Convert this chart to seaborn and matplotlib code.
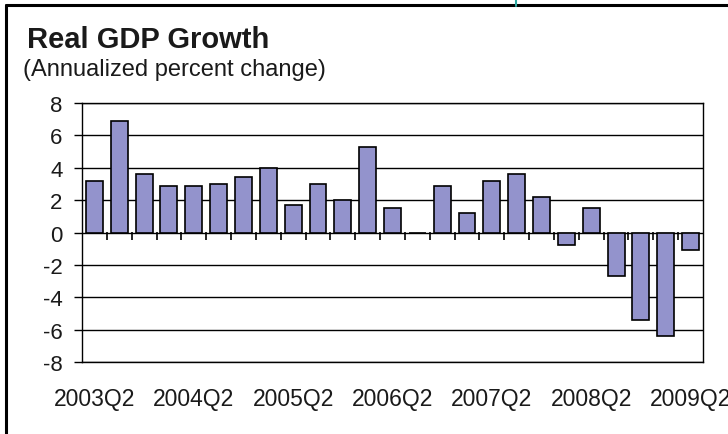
import matplotlib
matplotlib.use("Agg")
import matplotlib.pyplot as plt
from matplotlib.lines import Line2D
import seaborn as sns
import pandas as pd

quarters = ["2003Q2", "2003Q3", "2003Q4", "2004Q1", "2004Q2", "2004Q3", "2004Q4",
            "2005Q1", "2005Q2", "2005Q3", "2005Q4", "2006Q1", "2006Q2", "2006Q3",
            "2006Q4", "2007Q1", "2007Q2", "2007Q3", "2007Q4", "2008Q1", "2008Q2",
            "2008Q3", "2008Q4", "2009Q1", "2009Q2"]
growth = [3.2, 6.9, 3.6, 2.9, 2.9, 3.0, 3.4, 4.0, 1.7, 3.0, 2.0, 5.3, 1.5, 0.0,
          2.9, 1.2, 3.2, 3.6, 2.2, -0.8, 1.5, -2.7, -5.4, -6.4, -1.1]
shown_labels = ["2003Q2", "2004Q2", "2005Q2", "2006Q2", "2007Q2", "2008Q2", "2009Q2"]
y_ticks = [-8, -6, -4, -2, 0, 2, 4, 6, 8]

title = "Real GDP Growth"
subtitle = "(Annualized percent change)"

sns.set_style("white")
plt.rcParams["font.family"] = ["Liberation Sans", "DejaVu Sans"]

df = pd.DataFrame({"quarter": quarters, "growth": growth})

fig = plt.figure(figsize=(7.28, 4.35), dpi=100)
ax = fig.add_axes([82 / 728, 1 - 363 / 435, (703 - 82) / 728, (363 - 104) / 435])

for yv in y_ticks:
    ax.axhline(yv, color="black", linewidth=1.0, zorder=1)

sns.barplot(data=df, x="quarter", y="growth", color="#9393CC", saturation=1,
            width=0.68, edgecolor="black", linewidth=1.2, ax=ax, zorder=3)

ax.set_xlim(-0.5, len(quarters) - 0.5)
ax.set_ylim(-8, 8)
ax.set_yticks(y_ticks)
ax.set_yticklabels([str(v) for v in y_ticks])
ax.set_xticks([quarters.index(q) for q in shown_labels])
ax.set_xticklabels(shown_labels)
ax.set_xlabel("")
ax.set_ylabel("")
ax.tick_params(axis="x", length=0, pad=18, labelsize=16.5, colors="#1a1a1a")
ax.tick_params(axis="y", direction="out", length=6, width=1.0, color="black",
               pad=8, labelsize=16, labelcolor="#1a1a1a", left=True)
for sp in ax.spines.values():
    sp.set_visible(True)
    sp.set_color("black")
    sp.set_linewidth(1.0)

# category-boundary tick marks hanging below the zero line
sec = ax.secondary_xaxis(0.5)
sec.set_xticks([i + 0.5 for i in range(len(quarters) - 1)])
sec.set_xticklabels([])
sec.tick_params(axis="x", direction="in", length=6, width=1.2, color="black")
sec.spines["bottom"].set_visible(False)
sec.spines["top"].set_visible(False)

fig.text(27 / 728, 1 - 48 / 435, title, fontsize=21, fontweight="bold",
         color="#1a1a1a", va="baseline", ha="left")
fig.text(23 / 728, 1 - 76 / 435, subtitle, fontsize=17, color="#1a1a1a",
         va="baseline", ha="left")

# frame lines of the original screenshot
fig.add_artist(Line2D([6 / 728, 6 / 728], [0, 1 - 6 / 435], transform=fig.transFigure,
                      color="black", linewidth=2.2))
fig.add_artist(Line2D([6 / 728, 1], [1 - 6 / 435, 1 - 6 / 435], transform=fig.transFigure,
                      color="black", linewidth=2.2))
fig.add_artist(Line2D([516 / 728, 516 / 728], [1 - 7 / 435, 1], transform=fig.transFigure,
                      color="#2BA6A0", linewidth=1.5))

fig.savefig("out.png", dpi=100)
